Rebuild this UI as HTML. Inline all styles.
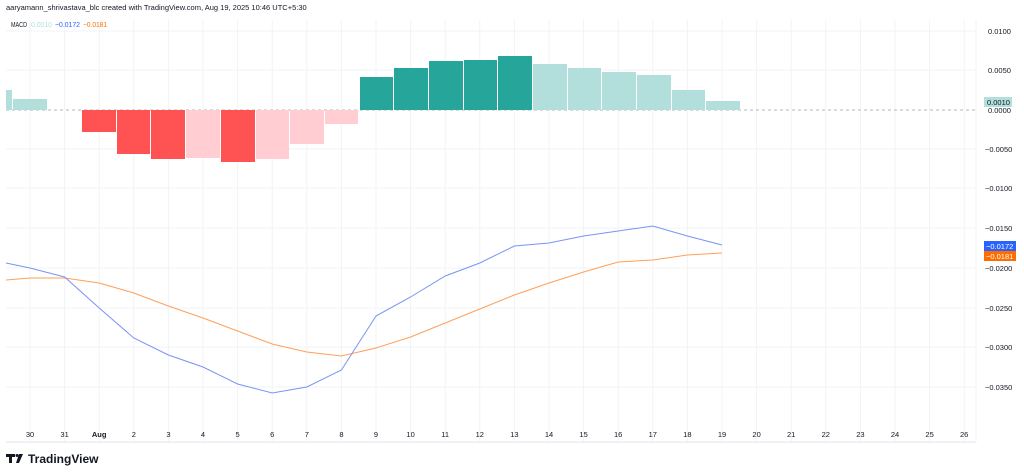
<!DOCTYPE html>
<html><head><meta charset="utf-8"><style>
html,body{margin:0;padding:0;background:#fff;width:1024px;height:476px;overflow:hidden}
svg text{font-family:"Liberation Sans",sans-serif}
</style></head><body>
<svg width="1024" height="476" xmlns="http://www.w3.org/2000/svg">
<rect width="1024" height="476" fill="#fff"/>
<g stroke="#f2f3f5" stroke-width="1">
<line x1="6" y1="31" x2="976" y2="31"/><line x1="6" y1="70" x2="976" y2="70"/>
<line x1="6" y1="149" x2="976" y2="149"/><line x1="6" y1="188" x2="976" y2="188"/>
<line x1="6" y1="228" x2="976" y2="228"/><line x1="6" y1="268" x2="976" y2="268"/>
<line x1="6" y1="308" x2="976" y2="308"/><line x1="6" y1="347" x2="976" y2="347"/>
<line x1="6" y1="387" x2="976" y2="387"/>
<line x1="30" y1="20" x2="30" y2="442"/><line x1="64.6" y1="20" x2="64.6" y2="442"/><line x1="99.2" y1="20" x2="99.2" y2="442"/><line x1="133.8" y1="20" x2="133.8" y2="442"/><line x1="168.4" y1="20" x2="168.4" y2="442"/><line x1="203" y1="20" x2="203" y2="442"/><line x1="237.6" y1="20" x2="237.6" y2="442"/><line x1="272.2" y1="20" x2="272.2" y2="442"/><line x1="306.8" y1="20" x2="306.8" y2="442"/><line x1="341.4" y1="20" x2="341.4" y2="442"/><line x1="376" y1="20" x2="376" y2="442"/><line x1="410.6" y1="20" x2="410.6" y2="442"/><line x1="445.2" y1="20" x2="445.2" y2="442"/><line x1="479.8" y1="20" x2="479.8" y2="442"/><line x1="514.4" y1="20" x2="514.4" y2="442"/><line x1="549" y1="20" x2="549" y2="442"/><line x1="583.6" y1="20" x2="583.6" y2="442"/><line x1="618.2" y1="20" x2="618.2" y2="442"/><line x1="652.8" y1="20" x2="652.8" y2="442"/><line x1="687.4" y1="20" x2="687.4" y2="442"/><line x1="722" y1="20" x2="722" y2="442"/><line x1="756.6" y1="20" x2="756.6" y2="442"/><line x1="791.2" y1="20" x2="791.2" y2="442"/><line x1="825.8" y1="20" x2="825.8" y2="442"/><line x1="860.4" y1="20" x2="860.4" y2="442"/><line x1="895" y1="20" x2="895" y2="442"/><line x1="929.6" y1="20" x2="929.6" y2="442"/><line x1="964.2" y1="20" x2="964.2" y2="442"/>
</g>
<line x1="6" y1="110" x2="976" y2="110" stroke="#b2b5be" stroke-dasharray="3,3"/>
<line x1="976" y1="20" x2="976" y2="442" stroke="#f0f3fa"/>
<line x1="6" y1="442" x2="976" y2="442" stroke="#e0e3eb"/>
<g>
<rect x="6" y="90" width="6" height="20" fill="#b2dfdb"/>
<rect x="13" y="99" width="34" height="11" fill="#b2dfdb"/>
<rect x="82" y="110" width="34" height="22" fill="#ff5252"/>
<rect x="117" y="110" width="33" height="44" fill="#ff5252"/>
<rect x="151" y="110" width="34" height="49" fill="#ff5252"/>
<rect x="186" y="110" width="34" height="48" fill="#ffcdd2"/>
<rect x="221" y="110" width="34" height="52" fill="#ff5252"/>
<rect x="256" y="110" width="33" height="49" fill="#ffcdd2"/>
<rect x="290" y="110" width="34" height="34" fill="#ffcdd2"/>
<rect x="325" y="110" width="33" height="14" fill="#ffcdd2"/>
<rect x="360" y="77" width="33" height="33" fill="#26a69a"/>
<rect x="394" y="68" width="34" height="42" fill="#26a69a"/>
<rect x="429" y="61" width="34" height="49" fill="#26a69a"/>
<rect x="464" y="60" width="33" height="50" fill="#26a69a"/>
<rect x="498" y="56" width="34" height="54" fill="#26a69a"/>
<rect x="533" y="64" width="34" height="46" fill="#b2dfdb"/>
<rect x="568" y="68" width="33" height="42" fill="#b2dfdb"/>
<rect x="602" y="72" width="34" height="38" fill="#b2dfdb"/>
<rect x="637" y="75" width="34" height="35" fill="#b2dfdb"/>
<rect x="672" y="90" width="33" height="20" fill="#b2dfdb"/>
<rect x="706" y="101" width="34" height="9" fill="#b2dfdb"/>
</g>
<polyline fill="none" stroke="#ff9f5a" stroke-width="1" points="6,280 30,278 64.6,278 99.2,283 133.8,293 168.4,306 203,318 237.6,331 272.2,344 306.8,352 341.4,356 376,348 410.6,337 445.2,323 479.8,309 514.4,295 549,283 583.6,272 618.2,262 652.8,260 687.4,255 722,253"/>
<polyline fill="none" stroke="#7b93f5" stroke-width="1" points="6,263 30,268 64.6,277 99.2,308 133.8,338 168.4,355 203,367 237.6,384 272.2,393 306.8,387 341.4,370 376,316 410.6,297 445.2,276 479.8,263 514.4,246 549,243 583.6,236 618.2,231 652.8,226 687.4,236 722,245"/>
<g font-size="7.5" fill="#131722" text-anchor="start">
<text x="988" y="34">0.0100</text><text x="988" y="73">0.0050</text><text x="988" y="113">0.0000</text>
<text x="985" y="152">−0.0050</text><text x="985" y="191">−0.0100</text><text x="985" y="231">−0.0150</text>
<text x="985" y="271">−0.0200</text><text x="985" y="311">−0.0250</text><text x="985" y="350">−0.0300</text><text x="985" y="390">−0.0350</text>
</g>
<rect x="984" y="97" width="28" height="10" fill="#b2dfdb"/>
<text x="987" y="105" font-size="7.5" fill="#131722">0.0010</text>
<rect x="984" y="241" width="32" height="10" fill="#2962ff"/>
<text x="986" y="249" font-size="7.5" fill="#fff">−0.0172</text>
<rect x="984" y="251" width="32" height="10" fill="#ff6d00"/>
<text x="986" y="259" font-size="7.5" fill="#fff">−0.0181</text>
<g font-size="7.5" fill="#131722" text-anchor="middle">
<text x="30" y="437">30</text><text x="64.6" y="437">31</text><text x="99.2" y="437" font-weight="bold">Aug</text><text x="133.8" y="437">2</text><text x="168.4" y="437">3</text><text x="203" y="437">4</text><text x="237.6" y="437">5</text><text x="272.2" y="437">6</text><text x="306.8" y="437">7</text><text x="341.4" y="437">8</text><text x="376" y="437">9</text><text x="410.6" y="437">10</text><text x="445.2" y="437">11</text><text x="479.8" y="437">12</text><text x="514.4" y="437">13</text><text x="549" y="437">14</text><text x="583.6" y="437">15</text><text x="618.2" y="437">16</text><text x="652.8" y="437">17</text><text x="687.4" y="437">18</text><text x="722" y="437">19</text><text x="756.6" y="437">20</text><text x="791.2" y="437">21</text><text x="825.8" y="437">22</text><text x="860.4" y="437">23</text><text x="895" y="437">24</text><text x="929.6" y="437">25</text><text x="964.2" y="437">26</text>
</g>
<text x="6" y="10" font-size="7.5" fill="#131722">aaryamann_shrivastava_blc created with TradingView.com, Aug 19, 2025 10:46 UTC+5:30</text>
<text x="11" y="27" font-size="7" fill="#131722" textLength="16" lengthAdjust="spacingAndGlyphs">MACD</text>
<text x="31" y="27" font-size="7" fill="#b2dfdb" textLength="21" lengthAdjust="spacingAndGlyphs">0.0010</text>
<text x="55" y="27" font-size="7" fill="#2962ff" textLength="25" lengthAdjust="spacingAndGlyphs">−0.0172</text>
<text x="83" y="27" font-size="7" fill="#ff6d00" textLength="24" lengthAdjust="spacingAndGlyphs">−0.0181</text>
<g fill="#131722">
<path d="M6 454h9v3h-3v6h-3v-6h-3z"/><circle cx="17" cy="455.5" r="1.5"/><path d="M19 454h4l-4 9h-3z"/>
</g>
<text x="28" y="463" font-size="12" font-weight="bold" fill="#131722">TradingView</text>
</svg>
</body></html>
